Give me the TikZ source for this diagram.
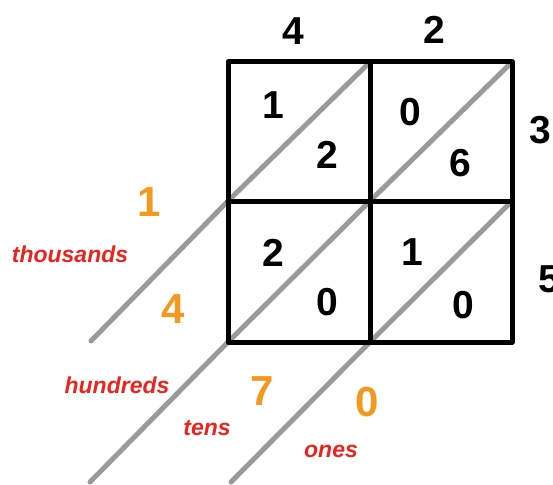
\documentclass[tikz,border=0pt]{standalone}
\usepackage{fontspec}
\setmainfont{Liberation Sans}
\definecolor{digorange}{HTML}{F39A1E}
\definecolor{placered}{HTML}{E8251F}
\definecolor{diaggray}{HTML}{9A9A9A}
\tikzset{
  gridline/.style={line width=5pt, black, line join=round, line cap=round},
  diagline/.style={line width=5pt, diaggray, line cap=round},
  blackdigit/.style={inner sep=0pt, font=\fontsize{39}{44}\selectfont\bfseries, text=black},
  orangedigit/.style={inner sep=0pt, font=\fontsize{42}{46}\selectfont\bfseries, text=digorange},
  placelabel/.style={inner sep=0pt, font=\fontsize{23}{26}\selectfont\bfseries\itshape, text=placered},
}
\begin{document}
\begin{tikzpicture}[x=1pt, y=-1pt]
\useasboundingbox (0,0) rectangle (553,484);
% grid corners
\coordinate (tl) at (228,62);
\coordinate (tm) at (370,62);
\coordinate (tr) at (512,62);
\coordinate (ml) at (228,201);
\coordinate (mm) at (370,201);
\coordinate (mr) at (512,201);
\coordinate (bl) at (228,342);
\coordinate (bm) at (370,342);
\coordinate (br) at (512,342);
% free ends of diagonals
\coordinate (e1) at (91,341);
\coordinate (e2) at (90,482);
\coordinate (e3) at (231,482);
% diagonals
\draw[diagline] (tm) -- (ml) -- (e1);
\draw[diagline] (tr) -- (mm) -- (bl) -- (e2);
\draw[diagline] (mr) -- (bm) -- (e3);
% grid
\draw[gridline] (tl) rectangle (br);
\draw[gridline] (tm) -- (bm);
\draw[gridline] (ml) -- (mr);
% factors
\node[blackdigit] (f4) at (293,31) {4};
\node[blackdigit] (f2) at (434,30) {2};
\node[blackdigit] (f3) at (540,130) {3};
\node[blackdigit] (f5) at (549,279) {5};
% cell digits
\node[blackdigit] (c11a) at (273,105) {1};
\node[blackdigit] (c11b) at (327,155) {2};
\node[blackdigit] (c12a) at (410,112) {0};
\node[blackdigit] (c12b) at (460,163) {6};
\node[blackdigit] (c21a) at (273,253) {2};
\node[blackdigit] (c21b) at (327,302) {0};
\node[blackdigit] (c22a) at (412,252) {1};
\node[blackdigit] (c22b) at (463,305) {0};
% result digits
\node[orangedigit] (r1) at (149,202) {1};
\node[orangedigit] (r2) at (173,309) {4};
\node[orangedigit] (r3) at (262,391) {7};
\node[orangedigit] (r4) at (367,402) {0};
% place labels
\node[placelabel] (lth) at (70,254) {thousands};
\node[placelabel] (lhu) at (117,385) {hundreds};
\node[placelabel] (lte) at (207,428) {tens};
\node[placelabel] (lon) at (331,451) {ones};
\end{tikzpicture}
\end{document}
